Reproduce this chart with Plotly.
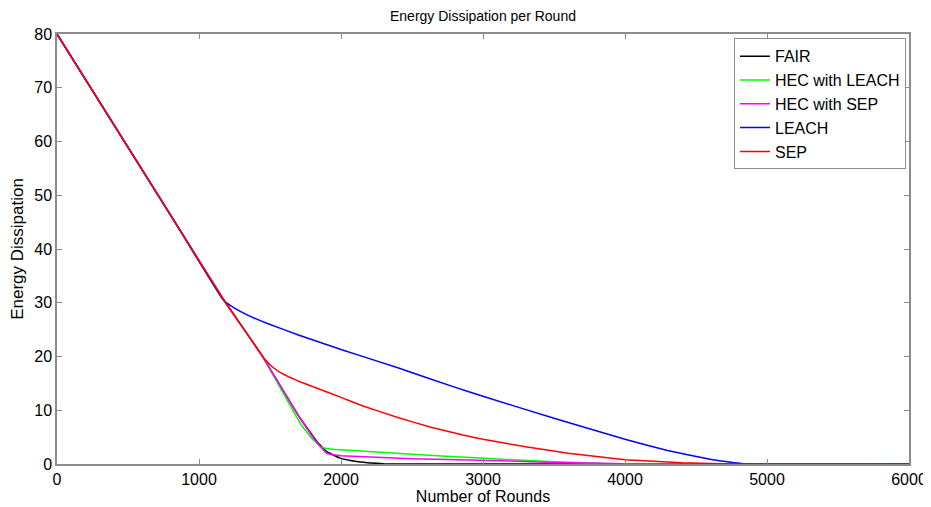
import plotly.graph_objects as go

# ---- data ----
fair_x = [0, 866, 1170, 1440, 1710, 1830, 1900, 1993, 2100, 2204, 2300, 2400, 6000]
fair_y = [80, 43.5, 30.7, 20.3, 8.6, 4.2, 2.3, 1.1, 0.5, 0.2, 0.05, 0, 0]

hec_leach_x = [0, 866, 1170, 1440, 1650, 1720, 1800, 1860, 1920, 2000, 2500, 2979, 3500, 3900, 4000, 6000]
hec_leach_y = [80, 43.5, 30.7, 20.3, 10.5, 7.3, 4.6, 3.2, 2.8, 2.65, 1.8, 1.1, 0.4, 0.05, 0, 0]

hec_sep_x = [0, 866, 1170, 1440, 1710, 1830, 1900, 1950, 2000, 2500, 2979, 3500, 4000, 4100, 6000]
hec_sep_y = [80, 43.5, 30.7, 20.3, 8.6, 4.0, 2.0, 1.7, 1.55, 1.0, 0.7, 0.3, 0.05, 0, 0]

leach_x = [0, 866, 1171, 1250, 1350, 1477, 1700, 2000, 2400, 2800, 3000, 3500, 4000, 4300, 4600, 4850, 6000]
leach_y = [80, 43.5, 30.5, 29.0, 27.6, 26.2, 24.0, 21.3, 17.9, 14.3, 12.6, 8.5, 4.6, 2.5, 0.9, 0, 0]

sep_x = [0, 866, 1170, 1420, 1470, 1520, 1580, 1650, 1711, 1850, 2000, 2155, 2394, 2627, 2859, 3000, 3300, 3600, 4000, 4400, 4800, 6000]
sep_y = [80, 43.5, 30.7, 21.1, 19.3, 18.0, 16.9, 16.0, 15.3, 13.9, 12.4, 10.8, 8.7, 6.9, 5.4, 4.6, 3.2, 2.0, 0.8, 0.25, 0, 0]

x_ticks = [0, 1000, 2000, 3000, 4000, 5000, 6000]
y_ticks = [0, 10, 20, 30, 40, 50, 60, 70, 80]

series = [
    ("FAIR", fair_x, fair_y, "#000000"),
    ("HEC with LEACH", hec_leach_x, hec_leach_y, "#00ff00"),
    ("HEC with SEP", hec_sep_x, hec_sep_y, "#ff00ff"),
    ("LEACH", leach_x, leach_y, "#0000ff"),
    ("SEP", sep_x, sep_y, "#ff0000"),
]

FONT = "Liberation Sans, Arial, sans-serif"

fig = go.Figure()
for name, xs, ys, col in series:
    fig.add_trace(go.Scatter(x=xs, y=ys, mode="lines", name=name,
                             line=dict(color=col, width=1.5, shape="spline", smoothing=0.3)))

axis_common = dict(
    showgrid=False, zeroline=False, showline=True, linecolor="#8c8c8c", linewidth=1.5,
    mirror="ticks", ticks="inside", ticklen=5, tickcolor="#8c8c8c", tickwidth=1,
    tickfont=dict(family=FONT, size=16, color="#000"), automargin=False,
)

# page body adds an 8px offset, so the figure is sized for the visible window
fig.update_layout(
    width=923, height=499,
    margin=dict(l=49, r=22, t=26, b=43),
    paper_bgcolor="white", plot_bgcolor="white",
    title=dict(text="Energy Dissipation per Round", x=0.5146, xanchor="center",
               yref="container", y=0.993, yanchor="top", pad=dict(t=0, b=0),
               font=dict(family=FONT, size=14, color="#000")),
    xaxis=dict(range=[0, 6000], tickvals=x_ticks, ticktext=[str(v) for v in x_ticks],
               title=dict(text="Number of Rounds", standoff=0,
                          font=dict(family=FONT, size=16, color="#000")),
               **axis_common),
    yaxis=dict(range=[0, 80], tickvals=y_ticks, ticktext=[str(v) for v in y_ticks],
               title=dict(text="Energy Dissipation", standoff=12,
                          font=dict(family=FONT, size=17, color="#000")),
               **axis_common),
    legend=dict(x=0.9965, xanchor="right", y=0.99, yanchor="top",
                bordercolor="#8c8c8c", borderwidth=1, bgcolor="white",
                font=dict(family=FONT, size=16, color="#000"),
                itemwidth=30, tracegroupgap=0),
    showlegend=True,
)

fig.write_html("out.html")
